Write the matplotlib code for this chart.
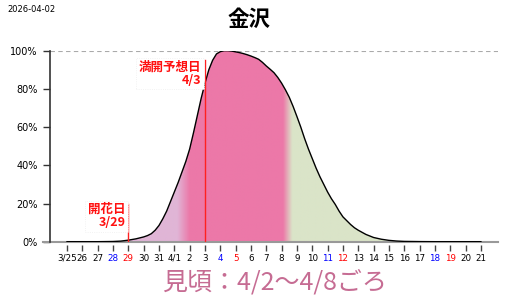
import numpy as np
import matplotlib
matplotlib.use("Agg")
import matplotlib.pyplot as plt

plt.rcParams['font.family'] = ['Noto Sans CJK JP', 'DejaVu Sans']

# ---- data ----
title = "金沢"
date_str = "2026-04-02"
tick_labels = ["3/25", "26", "27", "28", "29", "30", "31", "4/1", "2", "3", "4", "5", "6", "7",
               "8", "9", "10", "11", "12", "13", "14", "15", "16", "17", "18", "19", "20", "21"]
tick_colors = ["k", "k", "k", "b", "r", "k", "k", "k", "k", "k", "b", "r", "k", "k",
               "k", "k", "k", "b", "r", "k", "k", "k", "k", "k", "b", "r", "k", "k"]
# days counted from 3/25, bloom ratio in %
days = [0, 1, 2, 3, 3.5, 4, 4.5, 5, 5.25, 5.5, 5.75, 6, 6.25, 6.5, 6.75, 7, 7.25, 7.5, 7.75,
        8, 8.25, 8.5, 8.75, 9, 9.25, 9.5, 9.75, 10, 10.25, 10.5, 10.75, 11, 11.25, 11.5, 11.75,
        12, 12.25, 12.5, 12.75, 13, 13.25, 13.5, 13.75, 14, 14.25, 14.5, 14.75, 15, 15.25, 15.5,
        15.75, 16, 16.25, 16.5, 16.75, 17, 17.25, 17.5, 17.75, 18, 18.25, 18.5, 18.75, 19, 19.5,
        20, 20.5, 21, 21.5, 22, 23, 24, 25, 26, 27]
bloom = [0, 0, 0, 0.1, 0.3, 0.8, 1.5, 2.5, 3.2, 4.2, 6, 8.5, 12, 16, 21, 26, 31, 36.5, 42,
         48.5, 57, 66, 75, 83, 90, 95, 98.3, 99.5, 100, 100, 99.8, 99.4, 99, 98.5, 97.9,
         97.2, 96.4, 95.5, 93.9, 92, 90.3, 88.5, 86, 83, 79.5, 75.6, 70.8, 65.5, 60, 54,
         48.5, 43.5, 38.5, 34, 30, 26, 22.5, 19.5, 16, 13, 11, 9, 7.3, 6, 3.8,
         2.2, 1.3, 0.7, 0.35, 0.15, 0.05, 0, 0, 0, 0]
kaika_day = 4      # 3/29
mankai_day = 9     # 4/3
kaika_label = "開花日\n3/29"
mankai_label = "満開予想日\n4/3"
mikoro_label = "見頃：4/2～4/8ごろ"

# fill colour stops (day, colour)
stop_days = [7.2, 8.0, 14.1, 14.7]
stop_cols = ["#e0b5d6", "#ec78a8", "#ec78a8", "#dae4c8"]

fig = plt.figure(figsize=(5.12, 3.0), dpi=100)
ax = fig.add_axes([50/512, 58.3/300, 448/512, 191/300])

x = np.array(days, dtype=float)
y = np.array(bloom, dtype=float)

# gradient fill under the curve
m = x >= kaika_day
poly = ax.fill_between(x[m], 0, y[m], color="none", lw=0)
cols = np.array([matplotlib.colors.to_rgb(c) for c in stop_cols])
gx = np.linspace(kaika_day, 27, 400)
img = np.zeros((1, len(gx), 3))
for k in range(3):
    img[0, :, k] = np.interp(gx, stop_days, cols[:, k])
im = ax.imshow(img, extent=[kaika_day, 27, 0, 100], aspect="auto", origin="lower",
               interpolation="bilinear", zorder=1)
im.set_clip_path(poly.get_paths()[0], transform=ax.transData)
ax.set_xlim((50-67)/15.33, (498-67)/15.33)
ax.set_ylim(0, 100)

ax.plot(x, y, color="k", lw=1.0, zorder=3)

# reference lines
ax.axhline(100, color="#aaaaaa", lw=0.8, ls=(0, (4, 3)), zorder=0)
ax.plot([kaika_day, kaika_day], [0, 20], color="#ff2020", lw=1, zorder=4)
ax.plot([mankai_day, mankai_day], [0, 95], color="#ff2020", lw=1, zorder=4)
ax.axhline(0, xmin=-7/448, xmax=1, color="#999999", lw=1.5, zorder=2, clip_on=False)

box = dict(boxstyle="square,pad=0.2", fc="white", ec="#eeeeee", ls=":", lw=0.6)
ax.text(kaika_day - 0.2, 13.4, kaika_label, color="#ff1010", fontsize=9, fontweight="bold",
        ha="right", va="center", linespacing=1.0, bbox=box, zorder=5)
ax.text(mankai_day - 0.25, 88, mankai_label, color="#ff1010", fontsize=9, fontweight="bold",
        ha="right", va="center", linespacing=1.0, bbox=box, zorder=5)

# axes styling
for s in ["top", "right"]:
    ax.spines[s].set_visible(False)
ax.spines["bottom"].set_visible(False)
ax.spines["bottom"].set_position(("outward", 2.2))
ax.spines["left"].set_color("#333333")
ax.spines["left"].set_linewidth(1.2)

ax.set_yticks([0, 20, 40, 60, 80, 100])
ax.set_yticklabels(["0%", "20%", "40%", "60%", "80%", "100%"], family="DejaVu Sans")
ax.tick_params(axis="y", length=5, width=1, color="#333333", labelsize=7, pad=4)

ax.set_xticks(range(len(tick_labels)))
ax.set_xticklabels(tick_labels, family="DejaVu Sans")
ax.tick_params(axis="x", length=4.5, width=1, color="#444444", labelsize=6.3, pad=2)
for lab, c in zip(ax.get_xticklabels(), tick_colors):
    lab.set_color({"k": "black", "b": "#0000ff", "r": "#ff0000"}[c])

fig.text(249.5/512, 1 - 19/300, title, fontsize=15.5, fontweight="bold", ha="center", va="center")
fig.text(7/512, 1 - 9/300, date_str, fontsize=6, ha="left", va="center",
         family=["Liberation Sans Narrow", "DejaVu Sans"])
fig.text(274/512, 1 - 282/300, mikoro_label, fontsize=18, color="#c66c93", ha="center", va="center")

fig.savefig("out.png", dpi=100)
